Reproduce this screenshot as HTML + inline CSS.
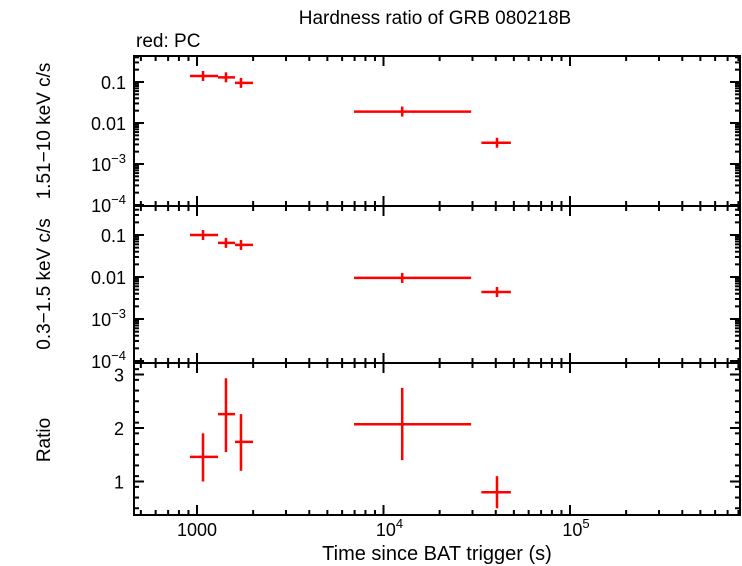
<!DOCTYPE html>
<html><head><meta charset="utf-8"><style>
body{margin:0;background:#fff}
svg{display:block;font-family:"Liberation Sans",sans-serif}
</style></head><body>
<svg id="c" width="742" height="566"></svg>
<script>
const tStart=[917,1296,1599,6950,33500];
const tEnd=[1296,1599,1996,29500,48200];
const tMid=[1077,1430,1721,12600,40600];
const hardRate=[0.14,0.13,0.095,0.019,0.0033];
const softRate=[0.1,0.065,0.058,0.0095,0.0044];
const ratio=[1.46,2.26,1.74,2.07,0.8];
const ratioLo=[1.0,1.55,1.2,1.4,0.5];
const ratioHi=[1.9,2.93,2.26,2.75,1.1];
const xTickLabels=["1000","10<tspan dy='-8' font-size='13'>4</tspan>","10<tspan dy='-8' font-size='13'>5</tspan>"];
const logTickLabels=["0.1","0.01","10<tspan dy='-8' font-size='13'>−3</tspan>","10<tspan dy='-8' font-size='13'>−4</tspan>"];
const ratioTicks=[1,2,3];

const svg=document.getElementById('c');
const NS='http://www.w3.org/2000/svg';
const L=134,R=740;
const X=t=>197+(Math.log10(t)-3)*186.5;
const panels=[{top:56,bot:206,y:v=>82+(-1-Math.log10(v))*41},
{top:206,bot:363,y:v=>235+(-1-Math.log10(v))*42},
{top:363,bot:515,y:v=>428-(v-2)*53.5}];
function el(tag,attrs,name,txt){const e=document.createElementNS(NS,tag);for(const k in attrs)e.setAttribute(k,attrs[k]);


if(txt!==undefined)e.innerHTML=txt;svg.appendChild(e);return e;}
function line(x1,y1,x2,y2,name,c,w){return el('line',{x1,y1,x2,y2,stroke:c||'#000','stroke-width':w||2},name);}

panels.forEach((p,pi)=>{
  for(let d=2;d<=5;d++)for(let m=1;m<10;m++){const t=m*Math.pow(10,d);const x=X(t);if(x<L||x>R)continue;
    const len=m==1?10:5;line(x,p.bot,x,p.bot-len,'x-tick');line(x,p.top,x,p.top+len,'x-tick');}
  if(pi<2){for(let e=-4;e<0;e++)for(let m=1;m<10;m++){const v=m*Math.pow(10,e);const y=p.y(v);if(y<p.top||y>p.bot)continue;
    const len=m==1?10:5;line(L,y,L+len,y,'y-tick');line(R,y,R-len,y,'y-tick');}
    [0.1,0.01,0.001,0.0001].forEach((v,i)=>el('text',{x:L-8,y:p.y(v)+7,'text-anchor':'end','font-size':18},'y-tick-label',logTickLabels[i]));}
  else{for(let v=0.5;v<=3.2;v+=0.2){const y=p.y(v);if(y<p.top)continue;line(L,y,L+5,y,'y-tick');line(R,y,R-5,y,'y-tick');}
    ratioTicks.forEach(v=>{const y=p.y(v);line(L,y,L+10,y,'y-tick');line(R,y,R-10,y,'y-tick');
      el('text',{x:L-10,y:y+7,'text-anchor':'end','font-size':18},'y-tick-label',v);});}
  el('rect',{x:L,y:p.top,width:R-L,height:p.bot-p.top,fill:'none',stroke:'#000','stroke-width':2},'panel-frame');
});
tMid.forEach((t,i)=>{
  let p=panels[0],y=p.y(hardRate[i]);
  line(X(tStart[i]),y,X(tEnd[i]),y,'hard-point-xerr','#f00',2.5);line(X(t),y-5,X(t),y+5,'hard-point-yerr','#f00',2.5);
  p=panels[1];y=p.y(softRate[i]);
  line(X(tStart[i]),y,X(tEnd[i]),y,'soft-point-xerr','#f00',2.5);line(X(t),y-5,X(t),y+5,'soft-point-yerr','#f00',2.5);
  p=panels[2];y=p.y(ratio[i]);
  line(X(tStart[i]),y,X(tEnd[i]),y,'ratio-point-xerr','#f00',2.5);line(X(t),p.y(ratioHi[i]),X(t),p.y(ratioLo[i]),'ratio-point-yerr','#f00',2.5);
});
[1000,1e4,1e5].forEach((t,i)=>el('text',{x:X(t)+(i?6:0),y:536,'text-anchor':'middle','font-size':18},'x-tick-label',xTickLabels[i]));
el('text',{x:435,y:24,'text-anchor':'middle','font-size':19},'chart-title','Hardness ratio of GRB 080218B');
el('text',{x:136,y:47,'font-size':19},'mode-label','red: PC');
el('text',{x:437,y:560,'text-anchor':'middle','font-size':20},'x-axis-title','Time since BAT trigger (s)');
el('text',{x:0,y:0,'text-anchor':'middle','font-size':19,transform:'translate(50,131) rotate(-90)'},'hard-band-y-title','1.51−10 keV c/s');
el('text',{x:0,y:0,'text-anchor':'middle','font-size':19,transform:'translate(50,284) rotate(-90)'},'soft-band-y-title','0.3−1.5 keV c/s');
el('text',{x:0,y:0,'text-anchor':'middle','font-size':19,transform:'translate(50,440) rotate(-90)'},'ratio-y-title','Ratio');
</script>
</body></html>
